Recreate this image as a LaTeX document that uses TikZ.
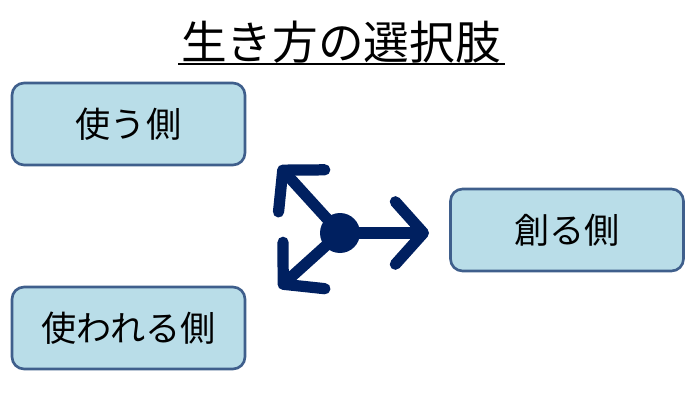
\documentclass[tikz,border=0pt]{standalone}
\usepackage{fontspec}
\setmainfont{Noto Sans CJK JP}
\usetikzlibrary{arrows.meta,calc,positioning}
\definecolor{sidefill}{HTML}{B9DDE8}
\definecolor{sidedraw}{HTML}{3F5F8C}
\definecolor{hubnavy}{HTML}{002060}
\tikzset{
  % a rounded box for one side
  sidebox/.style = {rectangle, rounded corners=0.24cm, draw=sidedraw, fill=sidefill,
    line width=1.5pt, minimum width=4.66cm, minimum height=1.64cm, inner sep=0pt,
    font=\fontsize{20}{24}\selectfont},
  % the filled centre dot
  hubdot/.style  = {circle, fill=hubnavy, inner sep=0pt, minimum size=0.8cm},
  % a thick arrow leaving the centre
  hubarrow/.style = {draw=hubnavy, line width=6.4pt, line cap=round,
    -{Straight Barb[length=0.56cm, width=1.25cm, line width=6.4pt, line cap=round, round]}},
  % the title
  titletext/.style = {font=\fontsize{26}{30}\selectfont, inner sep=0pt},
}

\begin{document}
\begin{tikzpicture}[x=0.02cm, y=-0.02cm]
  \useasboundingbox (0,0) rectangle (698,400);
  % title with underline
  \node[titletext] (title) at (341,42) {生き方の選択肢};
  \draw[line width=1.2pt] (178,64) -- (505,64);
  % the three sides
  \node[sidebox] (use)    at (128.5,124) {使う側};
  \node[sidebox] (used)   at (128.5,328) {使われる側};
  \node[sidebox] (create) at (567,230)   {創る側};
  % centre and arrows
  \node[hubdot] (hub) at (340,233) {};
  \coordinate (tipUse)    at (279,166);
  \coordinate (tipUsed)   at (279,288);
  \coordinate (tipCreate) at (429,233);
  \draw[hubarrow] (hub.center) -- (tipUse);
  \draw[hubarrow] (hub.center) -- (tipUsed);
  \draw[hubarrow] (hub.center) -- (tipCreate);
\end{tikzpicture}
\end{document}
